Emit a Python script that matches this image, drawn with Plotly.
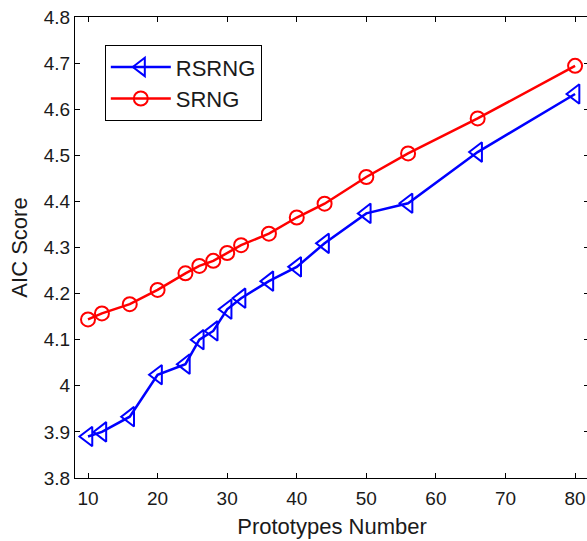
import plotly.graph_objects as go

prototypes = [10, 12, 16, 20, 24, 26, 28, 30, 32, 36, 40, 44, 50, 56, 66, 80]
rsrng_aic = [3.89, 3.90, 3.933, 4.024, 4.047, 4.10, 4.119, 4.166, 4.19, 4.227,
             4.258, 4.309, 4.374, 4.396, 4.507, 4.633]
srng_aic = [4.144, 4.157, 4.177, 4.208, 4.244, 4.26, 4.271, 4.288, 4.305, 4.33,
            4.365, 4.395, 4.453, 4.504, 4.580, 4.694]

font_family = "Liberation Sans, Arial, sans-serif"

fig = go.Figure()
fig.add_trace(go.Scatter(
    x=prototypes, y=rsrng_aic, name="RSRNG", mode="lines+markers",
    line=dict(color="#0000ff", width=2.5),
    marker=dict(symbol="triangle-left-open", size=17, color="#0000ff", line=dict(width=2))
))
fig.add_trace(go.Scatter(
    x=prototypes, y=srng_aic, name="SRNG", mode="lines+markers",
    line=dict(color="#ff0000", width=2.5),
    marker=dict(symbol="circle-open", size=14, color="#ff0000", line=dict(width=2))
))

# figure is a bit wider than the window: the right frame line falls just off-screen like the original
fig.update_layout(
    width=602, height=541,
    margin=dict(l=75, r=13, t=17, b=63, autoexpand=False),
    plot_bgcolor="white", paper_bgcolor="white",
    font=dict(family=font_family, color="#1a1a1a", size=19),
    xaxis=dict(
        range=[8.13, 82.0], tickvals=[10, 20, 30, 40, 50, 60, 70, 80],
        showgrid=False, zeroline=False, showline=True, linecolor="black", linewidth=1,
        mirror="ticks", ticks="inside", ticklen=5, tickcolor="black",
        ticklabeloverflow="allow", ticklabelstandoff=3,
        title=dict(text="Prototypes Number", font=dict(size=22), standoff=10)
    ),
    yaxis=dict(
        range=[3.8, 4.8], dtick=0.1, tick0=3.8,
        showgrid=False, zeroline=False, showline=True, linecolor="black", linewidth=1,
        mirror="ticks", ticks="inside", ticklen=5, tickcolor="black",
        ticklabeloverflow="allow",
        title=dict(text="AIC Score", font=dict(size=22), standoff=10)
    ),
    legend=dict(
        x=0.058, y=0.939, xanchor="left", yanchor="top",
        bordercolor="black", borderwidth=1, bgcolor="white",
        font=dict(size=22), itemwidth=60, tracegroupgap=0
    ),
    showlegend=True
)

fig.write_html(
    "out.html",
    config={"displayModeBar": False, "staticPlot": True},
    post_script="document.body.style.margin='0';"
                "document.documentElement.style.overflow='hidden';"
                "document.body.style.overflow='hidden';"
)
